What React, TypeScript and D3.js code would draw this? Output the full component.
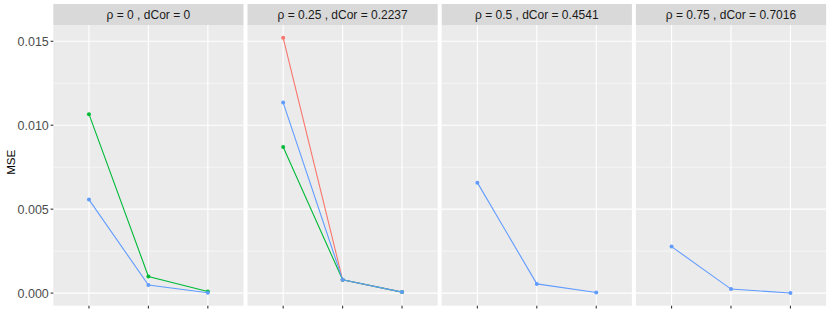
import React from 'react'
import * as d3 from 'd3'

const rhoLabels = ['0', '0.25', '0.5', '0.75']
const dcorLabels = ['0', '0.2237', '0.4541', '0.7016']
const xCategories = ['1', '2', '3']
const yTicks = [0, 0.005, 0.01, 0.015]
const yTickLabels = ['0.000', '0.005', '0.010', '0.015']

// MSE per panel, per x category (empty = not shown in that panel)
const redMSE: number[][] = [[], [0.01521, 0.00079, 0.00006], [], []]
const greenMSE: number[][] = [[0.01066, 0.00099, 0.0001], [0.0087, 0.00079, 0.00006], [], []]
const blueMSE: number[][] = [
	[0.00557, 0.00048, 0.00002],
	[0.01135, 0.00079, 0.00006],
	[0.00658, 0.00055, 0.00004],
	[0.00277, 0.00024, 0.00001],
]

const series = [
	{ name: 'red', color: '#F8766D', values: redMSE },
	{ name: 'green', color: '#00BA38', values: greenMSE },
	{ name: 'blue', color: '#619CFF', values: blueMSE },
]

const W = 830
const H = 312
const left = 53.3
const panelW = 190.2
const gap = 4
const stripTop = 4
const stripBottom = 25
const panelBottom = 305.7
const font = '"Liberation Sans", Arial, sans-serif'

export default function App() {
	const all = series.flatMap(s => s.values.flat())
	const lo = d3.min(all) as number
	const hi = d3.max(all) as number
	const pad = (hi - lo) * 0.05
	const y = d3.scaleLinear().domain([lo - pad, hi + pad]).range([panelBottom, stripBottom])
	const x = d3.scalePoint<string>().domain(xCategories).range([0, panelW]).padding(0.6)
	const minorTicks = yTicks.slice(0, -1).map((t, i) => (t + yTicks[i + 1]) / 2)
	const line = d3
		.line<number>()
		.x((_, i) => x(xCategories[i]) as number)
		.y(d => y(d))

	return (
		<svg width={W} height={H} style={{ position: 'fixed', left: 0, top: 0, background: '#fff' }}>
			{rhoLabels.map((rho, p) => {
				const px = left + p * (panelW + gap)
				return (
					<g key={rho} transform={`translate(${px},0)`}>
						<rect x={0} y={stripTop} width={panelW} height={stripBottom - stripTop} fill="#D9D9D9" />
						<text
							x={panelW / 2}
							y={(stripTop + stripBottom) / 2}
							dy="0.36em"
							textAnchor="middle"
							fontFamily={font}
							fontSize={12}
							fill="#1A1A1A"
						>
							{`ρ = ${rho} , dCor = ${dcorLabels[p]}`}
						</text>
						<rect x={0} y={stripBottom} width={panelW} height={panelBottom - stripBottom} fill="#EBEBEB" />
						{minorTicks.map(t => (
							<line key={'m' + t} x1={0} x2={panelW} y1={y(t)} y2={y(t)} stroke="#fff" strokeWidth={0.55} />
						))}
						{yTicks.map(t => (
							<line key={'g' + t} x1={0} x2={panelW} y1={y(t)} y2={y(t)} stroke="#fff" strokeWidth={1.1} />
						))}
						{xCategories.map(c => (
							<g key={c}>
								<line x1={x(c)} x2={x(c)} y1={stripBottom} y2={panelBottom} stroke="#fff" strokeWidth={1.1} />
								<line x1={x(c)} x2={x(c)} y1={panelBottom} y2={panelBottom + 2.7} stroke="#333" strokeWidth={1.1} />
							</g>
						))}
						{series.map(s =>
							s.values[p].length ? (
								<g key={s.name}>
									<path d={line(s.values[p]) as string} fill="none" stroke={s.color} strokeWidth={1.1} />
									{s.values[p].map((v, i) => (
										<circle key={i} cx={x(xCategories[i])} cy={y(v)} r={2} fill={s.color} />
									))}
								</g>
							) : null
						)}
					</g>
				)
			})}
			{yTicks.map((t, i) => (
				<g key={t}>
					<line x1={left - 2.7} x2={left} y1={y(t)} y2={y(t)} stroke="#333" strokeWidth={1.1} />
					<text
						x={left - 4.5}
						y={y(t)}
						dy="0.36em"
						textAnchor="end"
						fontFamily={font}
						fontSize={12.5}
						fill="#4D4D4D"
					>
						{yTickLabels[i]}
					</text>
				</g>
			))}
			<text
				transform={`translate(14.5,${(stripBottom + panelBottom) / 2 - 3}) rotate(-90)`}
				textAnchor="middle"
				fontFamily={font}
				fontSize={11.5}
				fill="#000"
			>
				MSE
			</text>
		</svg>
	)
}
